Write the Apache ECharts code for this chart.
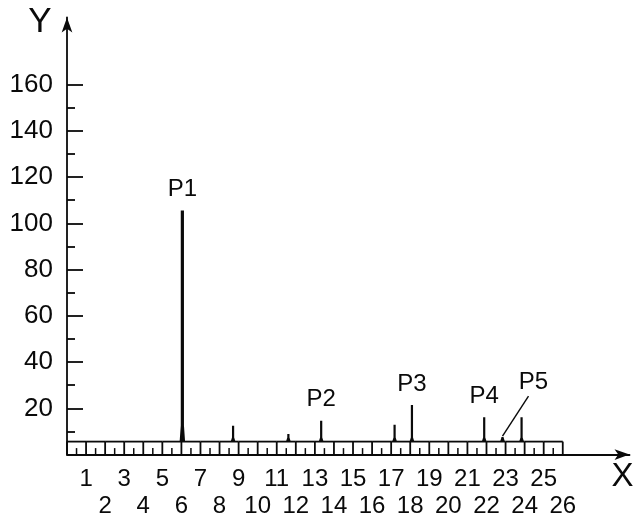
<!DOCTYPE html>
<html><head><meta charset="utf-8">
<script src="https://cdn.jsdelivr.net/npm/echarts@6/dist/echarts.min.js"></script>
<style>html,body{margin:0;padding:0;background:#fff}#c{width:638px;height:520px}</style>
</head><body><div id="c"></div>
<script>
// ---- data ----
const yTickValues = [20, 40, 60, 80, 100, 120, 140, 160];
const yMinorTickValues = [10, 30, 50, 70, 90, 110, 130, 150];
const xOddLabels = [1, 3, 5, 7, 9, 11, 13, 15, 17, 19, 21, 23, 25];
const xEvenLabels = [2, 4, 6, 8, 10, 12, 14, 16, 18, 20, 22, 24, 26];
const rulerMarks = [0, 1, 2, 3, 4, 5, 6, 7, 8, 9, 10, 11, 12, 13, 14, 15, 16, 17, 18, 19, 20, 21, 22, 23, 24, 25, 26];
const peakX = [6.05, 8.71, 11.61, 13.33, 17.18, 18.09, 21.88, 22.84, 23.84];
const peakY = [105.6, 12.5, 8.9, 14.6, 12.9, 21.4, 16.1, 7.6, 16.1];
const peakNames = ['P1', '', '', 'P2', '', 'P3', 'P4', 'P5', ''];

// ---- styles ----
const INK = '#0a0a0a';
const FONT = '"Liberation Sans", Arial, Helvetica, sans-serif';
const BAND_H = 13;
const LW = 1.8;
const labelStyle = { P5: { dx: 31, dy: -55, leader: true } };

const chart = echarts.init(document.getElementById('c'), null, { renderer: 'canvas' });

const peakData = peakX.map((x, i) => [x, peakY[i], peakNames[i]]);
const rulerData = rulerMarks.map(v => [v, 0]);
const lastMark = rulerMarks[rulerMarks.length - 1];

const option = {
  animation: false,
  backgroundColor: '#fff',
  grid: { left: 67, right: 8.5, top: 17.5, bottom: 65.4, containLabel: false },
  xAxis: [
    {
      type: 'value', min: 0, max: 29.5, position: 'bottom',
      axisLine: { show: true, onZero: false, symbol: ['none', 'arrow'], symbolSize: [8, 15],
        lineStyle: { color: INK, width: LW } },
      axisTick: { show: false },
      splitLine: { show: false },
      axisLabel: { customValues: xOddLabels, margin: 13, fontSize: 24, color: INK, fontFamily: FONT }
    },
    {
      type: 'value', min: 0, max: 29.5, position: 'bottom',
      axisLine: { show: false },
      axisTick: { show: false },
      splitLine: { show: false },
      axisLabel: { customValues: xEvenLabels, margin: 40, fontSize: 24, color: INK, fontFamily: FONT }
    }
  ],
  yAxis: [
    {
      type: 'value', min: 0, max: 189, position: 'left',
      axisLine: { show: true, onZero: false, symbol: ['none', 'arrow'], symbolSize: [8, 15],
        lineStyle: { color: INK, width: LW } },
      axisTick: { show: true, inside: true, length: 16, customValues: yTickValues,
        lineStyle: { color: INK, width: LW } },
      splitLine: { show: false },
      axisLabel: { customValues: yTickValues, margin: 14, fontSize: 26, color: INK, fontFamily: FONT }
    },
    {
      type: 'value', min: 0, max: 189, position: 'left',
      axisLine: { show: false },
      axisTick: { show: true, inside: true, length: 8, customValues: yMinorTickValues,
        lineStyle: { color: INK, width: LW } },
      splitLine: { show: false },
      axisLabel: { show: false }
    }
  ],
  graphic: [
    { type: 'text', style: { x: 40, y: 22.5, text: 'Y', fontSize: 35, fontFamily: FONT, fill: INK,
      textAlign: 'center', textVerticalAlign: 'middle' } },
    { type: 'text', style: { x: 622.5, y: 477, text: 'X', fontSize: 33, fontFamily: FONT, fill: INK,
      textAlign: 'center', textVerticalAlign: 'middle' } }
  ],
  series: [
    {
      type: 'custom', name: 'ruler', coordinateSystem: 'cartesian2d', xAxisIndex: 0, yAxisIndex: 0,
      clip: false, silent: true, z: 2,
      encode: { x: 0, y: 1 },
      data: rulerData,
      renderItem: function (params, api) {
        const v = api.value(0);
        const p = api.coord([v, 0]);
        const st = { stroke: INK, lineWidth: LW };
        const children = [
          { type: 'line', shape: { x1: p[0], y1: p[1], x2: p[0], y2: p[1] - BAND_H }, style: st }
        ];
        if (v < lastMark) {
          const q = api.coord([v + 1, 0]);
          const m = api.coord([v + 0.5, 0]);
          children.push({ type: 'line', shape: { x1: p[0], y1: p[1] - BAND_H, x2: q[0], y2: p[1] - BAND_H }, style: st });
          children.push({ type: 'line', shape: { x1: m[0], y1: p[1], x2: m[0], y2: p[1] - 6.5 }, style: { stroke: INK, lineWidth: 1.5 } });
        }
        return { type: 'group', children: children };
      }
    },
    {
      type: 'custom', name: 'peaks', coordinateSystem: 'cartesian2d', xAxisIndex: 0, yAxisIndex: 0,
      clip: false, silent: true, z: 3,
      encode: { x: 0, y: 1 },
      data: peakData,
      renderItem: function (params, api) {
        const x = api.value(0), y = api.value(1);
        const name = peakNames[params.dataIndex];
        const top = api.coord([x, y]);
        const base = api.coord([x, 0])[1] - BAND_H;
        const big = y > 50;
        const w = big ? 3.2 : 2.2;
        const bw = big ? 5.5 : 5;
        let h1 = big ? 16 : 4;
        h1 = Math.min(h1, Math.max(0, base - top[1]));
        const cx = top[0];
        const pts = [
          [cx - w / 2, top[1]], [cx + w / 2, top[1]],
          [cx + w / 2, base - h1], [cx + bw / 2, base + 0.5],
          [cx - bw / 2, base + 0.5], [cx - w / 2, base - h1]
        ];
        const children = [
          { type: 'polygon', shape: { points: pts }, style: { fill: INK } }
        ];
        if (name) {
          const ls = labelStyle[name];
          if (ls) {
            children.push({ type: 'line', shape: { x1: cx, y1: top[1] - 1, x2: cx + 26, y2: top[1] - 41 },
              style: { stroke: INK, lineWidth: 1.4 } });
            children.push({ type: 'text', style: { x: cx + ls.dx, y: top[1] + ls.dy, text: name,
              fontSize: 24, fontFamily: FONT, fill: INK, textAlign: 'center', textVerticalAlign: 'middle' } });
          } else {
            children.push({ type: 'text', style: { x: cx, y: top[1] - 21, text: name,
              fontSize: 24, fontFamily: FONT, fill: INK, textAlign: 'center', textVerticalAlign: 'middle' } });
          }
        }
        return { type: 'group', children: children };
      }
    }
  ]
};
chart.setOption(option);
</script>
</body></html>
